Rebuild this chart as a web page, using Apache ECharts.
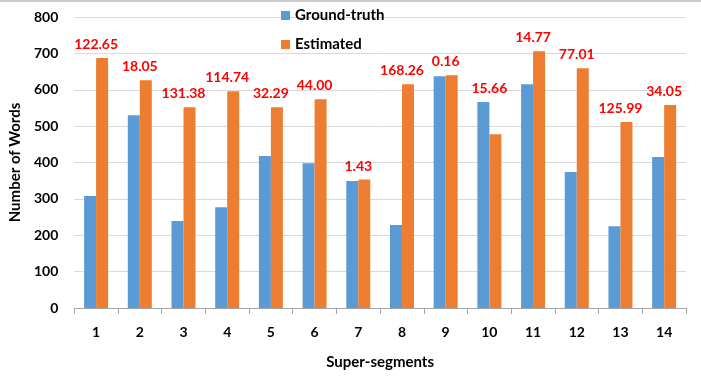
<!DOCTYPE html>
<html>
<head>
<meta charset="utf-8">
<script src="https://cdn.jsdelivr.net/npm/echarts@6/dist/echarts.min.js"></script>
<style>
	html,body{margin:0;padding:0;background:#fff;}
	#main{width:701px;height:378px;}
</style>
</head>
<body>
<div id="main"></div>
<script>
// data
var segments = ['1','2','3','4','5','6','7','8','9','10','11','12','13','14'];
var groundTruth = [308, 530, 239, 277, 418, 398, 349, 228, 637, 566, 615, 374, 225, 415];
var estimated = [687, 626, 552, 596, 552, 574, 353, 615, 640, 478, 706, 659, 511, 558];
var diffLabels = ['122.65','18.05','131.38','114.74','32.29','44.00','1.43','168.26','0.16','15.66','14.77','77.01','125.99','34.05'];
var seriesNames = ['Ground-truth', 'Estimated'];

var FONT = 'Lato';

function makeChart(showId){
	var chart = echarts.init(document.getElementById(showId));

	// labels sit above the taller bar of each pair, centred on the category
	var labelData = new Array();
	for(var i=0;i<segments.length;i++){
		labelData.push({
			value: [segments[i], Math.max(groundTruth[i], estimated[i])],
			label: {formatter: diffLabels[i]}
		});
	}

	var option = {
		animation: false,
		textStyle: {fontFamily: FONT},
		grid: {
			left: 71,
			right: 15,
			top: 17,
			bottom: 70
		},
		legend: {
			orient: 'vertical',
			left: 276,
			top: 3,
			itemWidth: 9,
			itemHeight: 9,
			itemGap: 14,
			icon: 'rect',
			data: seriesNames,
			textStyle: {fontFamily: FONT, fontWeight: 'bold', fontSize: 15, color: '#000'}
		},
		graphic: [{
			type: 'line',
			shape: {x1: 0, y1: 1, x2: 701, y2: 1},
			style: {stroke: '#999', lineWidth: 1}
		}],
		xAxis: {
			type: 'category',
			data: segments,
			name: 'Super-segments',
			nameLocation: 'middle',
			nameGap: 47,
			nameTextStyle: {fontFamily: FONT, fontWeight: 'bold', fontSize: 15, color: '#000'},
			axisLine: {lineStyle: {color: '#a6a6a6'}},
			axisTick: {show: true, length: 6, lineStyle: {color: '#a6a6a6'}},
			axisLabel: {margin: 17, fontFamily: FONT, fontWeight: 'bold', fontSize: 14, color: '#000'}
		},
		yAxis: {
			type: 'value',
			min: 0,
			max: 800,
			interval: 100,
			name: 'Number of Words',
			nameLocation: 'middle',
			nameGap: 50,
			nameTextStyle: {fontFamily: FONT, fontWeight: 'bold', fontSize: 15, color: '#000'},
			axisLine: {show: false},
			axisTick: {show: false},
			splitLine: {lineStyle: {color: '#d9d9d9'}},
			axisLabel: {margin: 16, fontFamily: FONT, fontWeight: 'bold', fontSize: 14, color: '#000'}
		},
		series: [
			{
				name: seriesNames[0],
				type: 'bar',
				data: groundTruth,
				barWidth: 12,
				barGap: '0%',
				itemStyle: {color: '#5b9bd5'}
			},
			{
				name: seriesNames[1],
				type: 'bar',
				data: estimated,
				barWidth: 12,
				itemStyle: {color: '#ed7d31'}
			},
			{
				name: 'labels',
				type: 'scatter',
				data: labelData,
				symbolSize: 1,
				itemStyle: {color: '#ffffff', opacity: 1},
				silent: true,
				z: 5,
				label: {
					show: true,
					position: 'top',
					distance: 6,
					color: '#ff0000',
					opacity: 1,
					fontFamily: FONT,
					fontWeight: 'bold',
					fontSize: 14
				}
			}
		]
	};

	chart.setOption(option);
}

makeChart('main');
</script>
</body>
</html>
